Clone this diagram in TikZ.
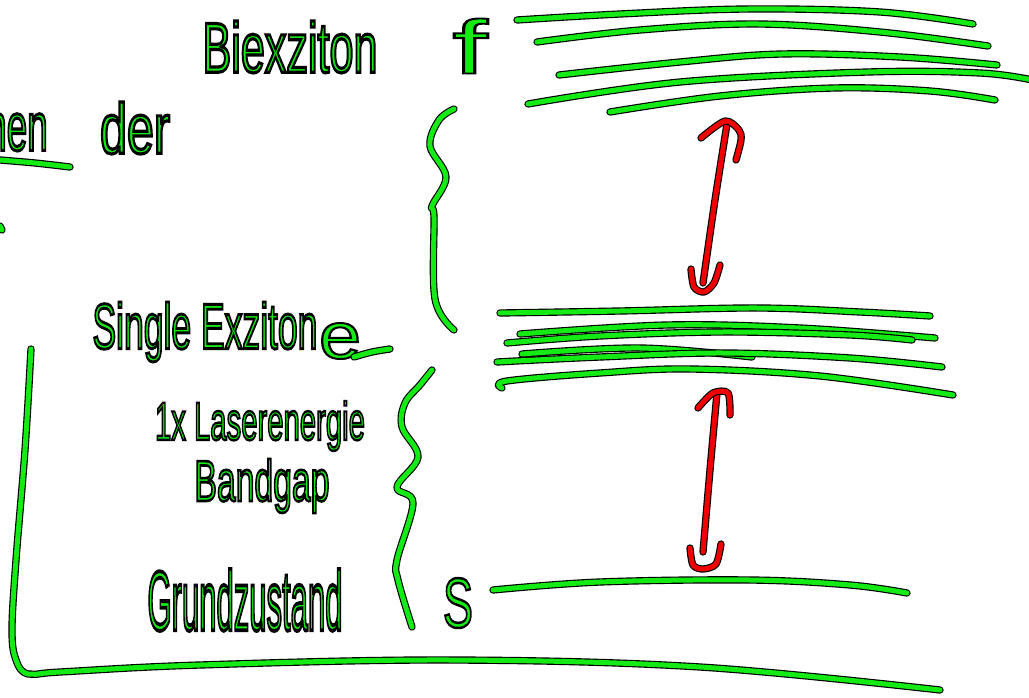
\documentclass[tikz,border=0pt]{standalone}
\usepackage{fontspec}
\setmainfont{Liberation Sans}
\usepackage{graphicx}
\definecolor{hg}{RGB}{20,235,20}
\definecolor{hr}{RGB}{240,0,0}
\tikzset{
  outl/.style={line width=7.3pt, black, line cap=round, line join=round},
  inl/.style={line width=5pt, hg, line cap=round, line join=round},
  inr/.style={line width=5pt, hr, line cap=round, line join=round},
  hwlabel/.style={inner sep=0pt, text=hg},
}
\newcommand\gstroke[1]{%
  \draw[outl] plot[smooth,tension=0.6] coordinates {#1};
  \draw[inl] plot[smooth,tension=0.6] coordinates {#1};}
\newcommand\rstroke[1]{%
  \draw[outl] plot[smooth,tension=0.5] coordinates {#1};
  \draw[inr] plot[smooth,tension=0.5] coordinates {#1};}
\newcommand\hwt[4][0.45]{\resizebox*{#2pt}{#3pt}{\special{pdf:literal direct 0 0 0 RG 2 Tr #1 w}#4\special{pdf:literal direct 0 Tr}}}
\begin{document}
\begin{tikzpicture}[x=1pt,y=-1pt]
\useasboundingbox (0,0) rectangle (1029,698);
\fill[white] (0,0) rectangle (1029,698);
% labels
\node[hwlabel] (biex) at (290,47) {\hwt{175}{52}{Biexziton}};
\node[hwlabel] (flab) at (470,46) {\hwt[0.25]{35}{55}{f}};
\node[hwlabel,anchor=east] (chen) at (48,126) {\hwt{80}{50}{chen}};
\node[hwlabel] (der) at (135,128) {\hwt{70}{52}{der}};
\node[hwlabel] (single) at (205,332) {\hwt{225}{60}{Single Exziton}};
\node[hwlabel] (elab) at (340,341) {\hwt[0.3]{42}{36}{e}};
\node[hwlabel] (laser) at (260,426) {\hwt{210}{50}{1x Laserenergie}};
\node[hwlabel] (bandgap) at (262,486) {\hwt{135}{54}{Bandgap}};
\node[hwlabel] (grund) at (245,600) {\hwt{195}{62}{Grundzustand}};
\node[hwlabel] (slab) at (458,603) {\hwt[0.35]{30}{50}{S}};
% underline and tails
\gstroke{(0,160) (35,163) (70,167)}
\gstroke{(354,357) (372,352) (390,349)}
\gstroke{(0,226) (2,230)}
% biexciton levels
\gstroke{(517,20) (620,14) (748,9) (880,12) (973,24)}
\gstroke{(537,42) (640,30) (758,24) (880,32) (988,46)}
\gstroke{(559,75) (680,62) (782,54) (900,57) (997,65)}
\gstroke{(528,104) (680,82) (868,72) (980,73) (1032,80)}
\gstroke{(610,112) (720,96) (834,88) (930,91) (995,100)}
% single exciton levels
\gstroke{(500,313) (620,311) (757,308) (860,312) (930,316)}
\gstroke{(520,334) (667,325) (800,328) (935,338)}
\gstroke{(507,343) (600,336) (723,332) (850,335) (912,340)}
\gstroke{(522,354) (640,348) (752,357)}
\gstroke{(497,362) (600,357) (723,353) (850,358) (942,367)}
\gstroke{(502,388) (507,381) (600,373) (690,369) (820,376) (953,395)}
% ground level
\gstroke{(493,590) (600,582) (750,580) (850,585) (907,593)}
% braces
\gstroke{(454,109) (439,120) (430,146) (446,177) (432,206) (434,217) (435,299) (454,330)}
\gstroke{(432,370) (420,385) (405,403) (402,427) (418,457) (397,487) (413,503) (397,560) (398,580) (412,627)}
% axis L
\gstroke{(31,349) (25,450) (16,560) (12,630) (16,660) (28,674) (60,672) (200,665) (450,660) (700,667) (940,690)}
% red arrows
\rstroke{(703,283) (715,200) (727,124)}
\rstroke{(701,138) (725,121) (739,130) (741,140) (736,160)}
\rstroke{(691,269) (694,287) (704,292) (714,283) (720,265)}
\rstroke{(703,552) (710,470) (717,393)}
\rstroke{(698,408) (713,393) (728,393) (730,415)}
\rstroke{(690,548) (693,565) (703,569) (716,564) (721,544)}
\end{tikzpicture}
\end{document}
